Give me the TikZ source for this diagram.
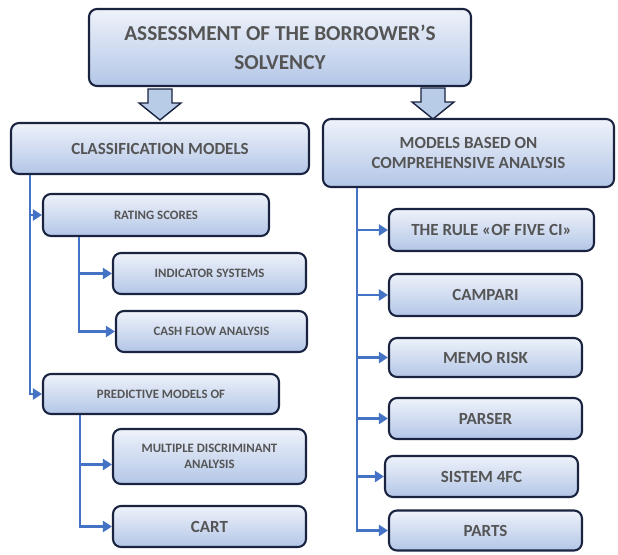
\documentclass[tikz,border=0pt]{standalone}
\usepackage{fontspec}
\setmainfont{Carlito}
\usetikzlibrary{arrows.meta}
\definecolor{boxtop}{HTML}{EEF2FA}
\definecolor{boxbot}{HTML}{B3C6E7}
\definecolor{boxedge}{HTML}{1A2440}
\definecolor{txt}{HTML}{555555}
\definecolor{conn}{HTML}{4472C4}
\definecolor{blkfill}{HTML}{B8CCE8}
\tikzset{
  box/.style={rectangle, rounded corners=8pt, draw=boxedge, line width=2.1pt,
    top color=boxtop, bottom color=boxbot, text=txt, align=center,
    inner sep=0pt, font=\bfseries},
  small/.style={font=\bfseries\fontsize{12.8}{16}\selectfont},
  big/.style={font=\bfseries\fontsize{17}{20}\selectfont},
  link/.style={draw=conn, line width=2.3pt, -{Triangle[length=9pt,width=11pt]}},
  blkstyle/.style={draw=boxedge, line width=1.4pt, fill=blkfill, line join=miter},
  blkarrow/.pic={\draw[blkstyle] (-12,0) -- (12,0) -- (12,14) -- (21,14) -- (0,31) -- (-21,14) -- (-12,14) -- cycle;}
}
\begin{document}
\begin{tikzpicture}[x=1pt,y=-1pt]
\useasboundingbox (0,0) rectangle (618,554);
% top box
\node[box, minimum width=382pt, minimum height=77pt,
  font=\bfseries\fontsize{21.3}{29}\selectfont] (top) at (280,47.5)
  {ASSESSMENT OF THE BORROWER\char"27 S\\SOLVENCY};
% block arrows
\pic at (160,89) {blkarrow};
\pic at (433,88) {blkarrow};
% headers
\node[box, big, minimum width=298pt, minimum height=51pt] (cls) at (160,148.5) {CLASSIFICATION MODELS};
\node[box, big, minimum width=291pt, minimum height=68pt] (comp) at (468.5,153) {MODELS BASED ON\\COMPREHENSIVE ANALYSIS};
% left column
\node[box, small, minimum width=226pt, minimum height=42pt] (rating) at (156,215) {RATING SCORES};
\node[box, small, minimum width=193pt, minimum height=41pt] (ind) at (209.5,273.5) {INDICATOR SYSTEMS};
\node[box, small, minimum width=191pt, minimum height=41pt] (cash) at (211.5,331.5) {CASH FLOW ANALYSIS};
\node[box, small, minimum width=236pt, minimum height=40pt] (pred) at (161,394) {PREDICTIVE MODELS OF};
\node[box, small, minimum width=193pt, minimum height=55pt] (mda) at (209.5,456.5) {MULTIPLE DISCRIMINANT\\ANALYSIS};
\node[box, big, minimum width=193pt, minimum height=41pt] (cart) at (209.5,526.5) {CART};
% right column
\node[box, big, minimum width=205pt, minimum height=42pt] (rule) at (491.5,230) {THE RULE «OF FIVE CI»};
\node[box, big, minimum width=193pt, minimum height=42pt] (campari) at (485.5,295) {CAMPARI};
\node[box, big, minimum width=193pt, minimum height=39pt] (memo) at (485.5,357.5) {MEMO RISK};
\node[box, big, minimum width=193pt, minimum height=41pt] (parser) at (485.5,418.5) {PARSER};
\node[box, big, minimum width=193pt, minimum height=41pt] (sistem) at (481.5,476.5) {SISTEM 4FC};
\node[box, big, minimum width=193pt, minimum height=40pt] (parts) at (485.5,530.5) {PARTS};
% connectors left
\draw[link] ([xshift=20pt]cls.south west) |- (rating.west);
\draw[link] ([xshift=20pt]cls.south west) |- (pred.west);
\draw[link] ([xshift=37pt]rating.south west) |- (ind.west);
\draw[link] ([xshift=37pt]rating.south west) |- (cash.west);
\draw[link] ([xshift=38pt]pred.south west) |- ([yshift=-8pt]mda.west);
\draw[link] ([xshift=38pt]pred.south west) |- (cart.west);
% connectors right
\draw[link] ([xshift=35pt]comp.south west) |- (rule.west);
\draw[link] ([xshift=35pt]comp.south west) |- (campari.west);
\draw[link] ([xshift=35pt]comp.south west) |- (memo.west);
\draw[link] ([xshift=35pt]comp.south west) |- (parser.west);
\draw[link] ([xshift=35pt]comp.south west) |- (sistem.west);
\draw[link] ([xshift=35pt]comp.south west) |- (parts.west);
\end{tikzpicture}
\end{document}
